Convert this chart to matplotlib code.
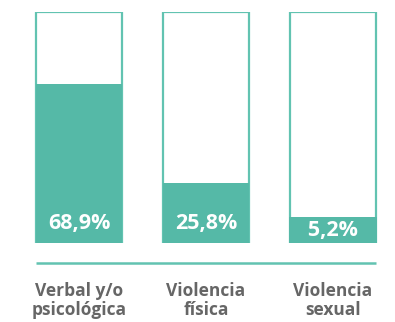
import matplotlib
matplotlib.use("Agg")
import matplotlib.pyplot as plt

categories = ["Verbal y/o\npsicológica", "Violencia\nfísica", "Violencia\nsexual"]
values = [68.9, 25.8, 5.2]
value_labels = ["68,9%", "25,8%", "5,2%"]

TEAL = "#55b9a7"
EDGE = "#62c3b1"
GREY = "#666666"
FONT = "Open Sans"

fig = plt.figure(figsize=(3.95, 3.22), dpi=100)
ax = fig.add_axes([15.5 / 395, 79 / 322, 381 / 395, 231 / 322])

x = list(range(len(categories)))
width = 0.68

# full-height outline boxes (100%) and the filled share
ax.bar(x, [100] * len(x), width=width, facecolor="white", edgecolor=EDGE,
       linewidth=1.6, zorder=1)
ax.bar(x, values, width=width, color=TEAL, linewidth=0, zorder=2)

for xi, v, lab in zip(x, values, value_labels):
    if v >= 15:
        ax.text(xi, 8.6, lab, ha="center", va="center", color="white",
                fontsize=15.5, fontweight="bold", family=FONT, zorder=3)
    else:
        ax.text(xi, 5.6, "   " + lab + "   ", ha="center", va="center",
                color="white", fontsize=15.5, fontweight="bold", family=FONT,
                zorder=3,
                bbox=dict(boxstyle="square,pad=0.12", facecolor=TEAL,
                          edgecolor="none"))

# baseline rule under the bars
ax.plot([x[0] - width / 2, x[-1] + width / 2], [-8.7, -8.7], color=EDGE,
        linewidth=1.8, clip_on=False, solid_capstyle="butt")

ax.set_xlim(-0.5, len(x) - 0.5)
ax.set_ylim(0, 100)
ax.set_xticks(x)
ax.set_xticklabels(categories, fontsize=12.5, fontweight="bold", color=GREY,
                   family=FONT, linespacing=1.05)
ax.tick_params(axis="x", length=0, pad=28)
ax.set_yticks([])
for s in ax.spines.values():
    s.set_visible(False)

fig.savefig("out.png", dpi=100)
